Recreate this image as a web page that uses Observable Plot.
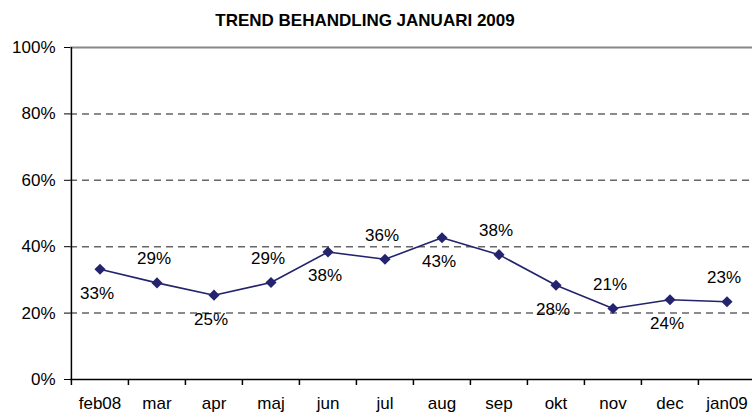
<!DOCTYPE html>
<html><head><meta charset="utf-8">
<script src="https://cdn.jsdelivr.net/npm/d3@7"></script>
<script src="https://cdn.jsdelivr.net/npm/@observablehq/plot@0.6"></script>
<style>
body{margin:0;background:#fff;}
#wrap{position:relative;width:752px;height:416px;overflow:hidden;}
#wrap svg{position:absolute;left:0;top:0;}
#title{position:absolute;left:0;top:11px;width:730px;text-align:center;font:bold 17px "Liberation Sans",Arial,sans-serif;letter-spacing:0px;line-height:20px;z-index:2;}
</style></head><body>
<div id="wrap"><div id="title">TREND BEHANDLING JANUARI 2009</div></div>
<script>
const months = ["feb08","mar","apr","maj","jun","jul","aug","sep","okt","nov","dec","jan09"];
const shares = [0.332,0.291,0.254,0.292,0.384,0.362,0.427,0.376,0.284,0.214,0.240,0.234];
const labelSide = ["below","above","below","above","below","above","below","above","below","above","below","above"];
const yTicks = [0,0.2,0.4,0.6,0.8,1];
const data = months.map((m,i)=>({month:m, share:shares[i], side:labelSide[i]}));

const W=752,H=416,ML=70,MR=-4,MT=47,MB=37;
const bw = (W-ML-MR)/months.length;
const font = '"Liberation Sans", Arial, sans-serif';
const navy = "#23236e";
const pct = d3.format(".0%");
const FS = 17;

const chart = Plot.plot({
  width:W, height:H, marginLeft:ML, marginRight:MR, marginTop:MT, marginBottom:MB,
  style:{fontFamily:font, fontSize:FS+"px", color:"#000", background:"transparent", overflow:"visible"},
  x:{type:"band", domain:months, padding:0, label:null},
  y:{domain:[0,1], label:null},
  marks:[
    Plot.ruleY(yTicks.filter(v=>v>0 && v<1), {y:d=>d, stroke:"#666", strokeWidth:1.5, strokeDasharray:"7,5"}),
    Plot.ruleY([1], {y:d=>d, stroke:"#888", strokeWidth:2}),
    Plot.axisY({ticks:yTicks, tickFormat:pct, tickSize:6, tickPadding:9, label:null, stroke:"#000", fontSize:FS}),
    Plot.ruleX([months[0]], {x:d=>d, y1:0, y2:1, dx:-bw/2, stroke:"#000", strokeWidth:1.5}),
    Plot.ruleY([0], {y:d=>d, stroke:"#000", strokeWidth:1.5}),
    Plot.ruleX(months, {x:d=>d, y1:0, y2:0, insetBottom:-6, dx:-bw/2, stroke:"#000", strokeWidth:1.5}),
    Plot.axisX({tickSize:0, tickPadding:17, label:null, fontSize:FS}),
    Plot.line(data, {x:"month", y:"share", stroke:navy, strokeWidth:1.6}),
    Plot.dot(data, {x:"month", y:"share", symbol:"diamond2", r:5, fill:navy, stroke:"none"}),
    Plot.text(data.filter(d=>d.side==="above"), {x:"month", y:"share", text:d=>pct(d.share), dy:-24, dx:-3, fill:"#000", fontSize:FS}),
    Plot.text(data.filter(d=>d.side==="below"), {x:"month", y:"share", text:d=>pct(d.share), dy:24, dx:-3, fill:"#000", fontSize:FS})
  ]
});
document.getElementById("wrap").appendChild(chart);
</script>
</body></html>
